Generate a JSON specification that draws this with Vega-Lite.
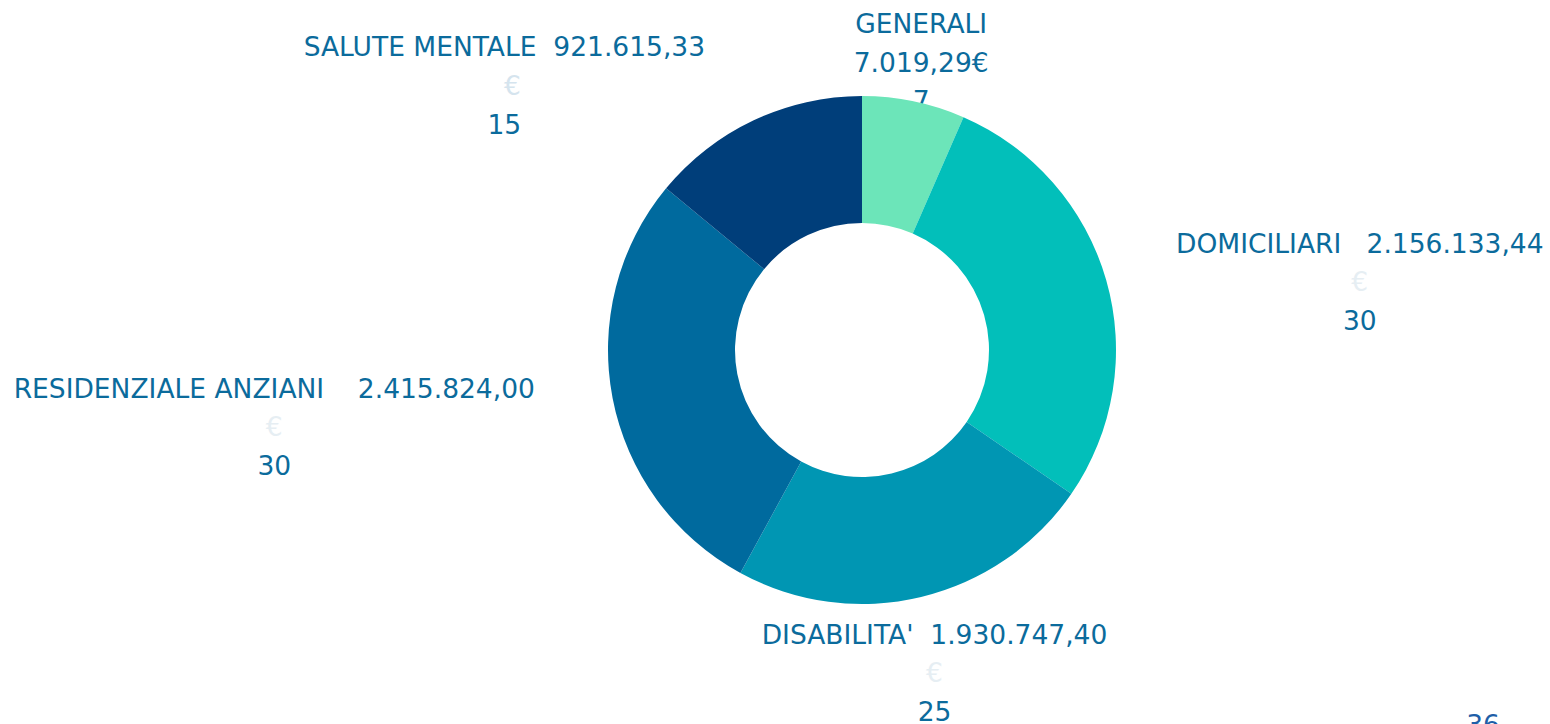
{
  "$schema": "https://vega.github.io/schema/vega-lite/v6.json",
  "width": 1376,
  "height": 700,
  "autosize": {"type": "none"},
  "padding": {"left": 174, "top": 0, "right": 0, "bottom": 24},
  "background": "white",
  "config": {"view": {"stroke": null}, "text": {"font": "DejaVu Sans"}},
  "data": {
    "values": [
      {"ordine": 1, "categoria": "GENERALI", "numero": 7, "etichetta": "GENERALI\n7.019,29€\n7"},
      {"ordine": 2, "categoria": "DOMICILIARI", "numero": 30, "etichetta": "DOMICILIARI\u00a0 \u00a02.156.133,44\n30"},
      {"ordine": 3, "categoria": "DISABILITA'", "numero": 25, "etichetta": "DISABILITA'\u00a0 1.930.747,40\n25"},
      {"ordine": 4, "categoria": "RESIDENZIALE ANZIANI", "numero": 30, "etichetta": "RESIDENZIALE ANZIANI\u00a0 \u00a0 2.415.824,00\n30"},
      {"ordine": 5, "categoria": "SALUTE MENTALE", "numero": 15, "etichetta": "SALUTE MENTALE\u00a0 921.615,33\n15"}
    ]
  },
  "encoding": {
    "theta": {"field": "numero", "type": "quantitative", "stack": true},
    "order": {"field": "ordine", "type": "quantitative"}
  },
  "layer": [
    {
      "mark": {"type": "text", "radius": 290, "dx": 0, "dy": -41, "fontSize": 26.5, "lineHeight": 38.5, "lineBreak": "\n", "baseline": "middle", "align": "center", "color": "#0B6B9C"},
      "encoding": {"text": {"condition": {"test": "datum.categoria === 'GENERALI'", "field": "etichetta"}, "value": ""}}
    },
    {
      "mark": {"type": "text", "radius": 290, "dx": 219, "dy": -25, "fontSize": 26.5, "lineHeight": 77, "lineBreak": "\n", "baseline": "middle", "align": "center", "color": "#0B6B9C"},
      "encoding": {"text": {"condition": {"test": "datum.categoria === 'DOMICILIARI'", "field": "etichetta"}, "value": ""}}
    },
    {
      "mark": {"type": "text", "radius": 290, "dx": 5, "dy": 4, "fontSize": 26.5, "lineHeight": 77, "lineBreak": "\n", "baseline": "middle", "align": "center", "color": "#0B6B9C"},
      "encoding": {"text": {"condition": {"test": "datum.categoria === \"DISABILITA'\"", "field": "etichetta"}, "value": ""}}
    },
    {
      "mark": {"type": "text", "radius": 290, "dx": -303, "dy": -15, "fontSize": 26.5, "lineHeight": 77, "lineBreak": "\n", "baseline": "middle", "align": "center", "color": "#0B6B9C"},
      "encoding": {"text": {"condition": {"test": "datum.categoria === 'RESIDENZIALE ANZIANI'", "field": "etichetta"}, "value": ""}}
    },
    {
      "mark": {"type": "text", "radius": 290, "dx": -234, "dy": -40, "fontSize": 26.5, "lineHeight": 78, "lineBreak": "\n", "baseline": "middle", "align": "center", "color": "#0B6B9C"},
      "encoding": {"text": {"condition": {"test": "datum.categoria === 'SALUTE MENTALE'", "field": "etichetta"}, "value": ""}}
    },
    {
      "mark": {"type": "text", "radius": 290, "dx": 219, "dy": 13, "fontSize": 26.5, "baseline": "middle", "align": "center", "color": "#E6EEF3"},
      "encoding": {"text": {"condition": {"test": "datum.categoria === 'DOMICILIARI'", "value": "€"}, "value": ""}}
    },
    {
      "mark": {"type": "text", "radius": 290, "dx": 5, "dy": 42, "fontSize": 26.5, "baseline": "middle", "align": "center", "color": "#E6EEF3"},
      "encoding": {"text": {"condition": {"test": "datum.categoria === \"DISABILITA'\"", "value": "€"}, "value": ""}}
    },
    {
      "mark": {"type": "text", "radius": 290, "dx": -303, "dy": 23, "fontSize": 26.5, "baseline": "middle", "align": "center", "color": "#E6EEF3"},
      "encoding": {"text": {"condition": {"test": "datum.categoria === 'RESIDENZIALE ANZIANI'", "value": "€"}, "value": ""}}
    },
    {
      "mark": {"type": "text", "radius": 290, "dx": -226, "dy": -1, "fontSize": 26.5, "baseline": "middle", "align": "center", "color": "#D5E4EE"},
      "encoding": {"text": {"condition": {"test": "datum.categoria === 'SALUTE MENTALE'", "value": "€"}, "value": ""}}
    },
    {
      "mark": {"type": "arc", "outerRadius": 254, "innerRadius": 127, "stroke": null},
      "encoding": {
        "color": {
          "field": "categoria",
          "type": "nominal",
          "sort": null,
          "scale": {
            "domain": ["GENERALI", "DOMICILIARI", "DISABILITA'", "RESIDENZIALE ANZIANI", "SALUTE MENTALE"],
            "range": ["#6CE5B9", "#02BFBA", "#0096B3", "#006A9E", "#003E7A"]
          },
          "legend": null
        }
      }
    },
    {
      "data": {"values": [{"testo": "36"}]},
      "mark": {"type": "text", "dx": 621, "dy": 376, "fontSize": 26.5, "baseline": "middle", "align": "center", "color": "#1F5FA8"},
      "encoding": {"text": {"field": "testo", "type": "nominal"}, "theta": null, "order": null}
    }
  ]
}
